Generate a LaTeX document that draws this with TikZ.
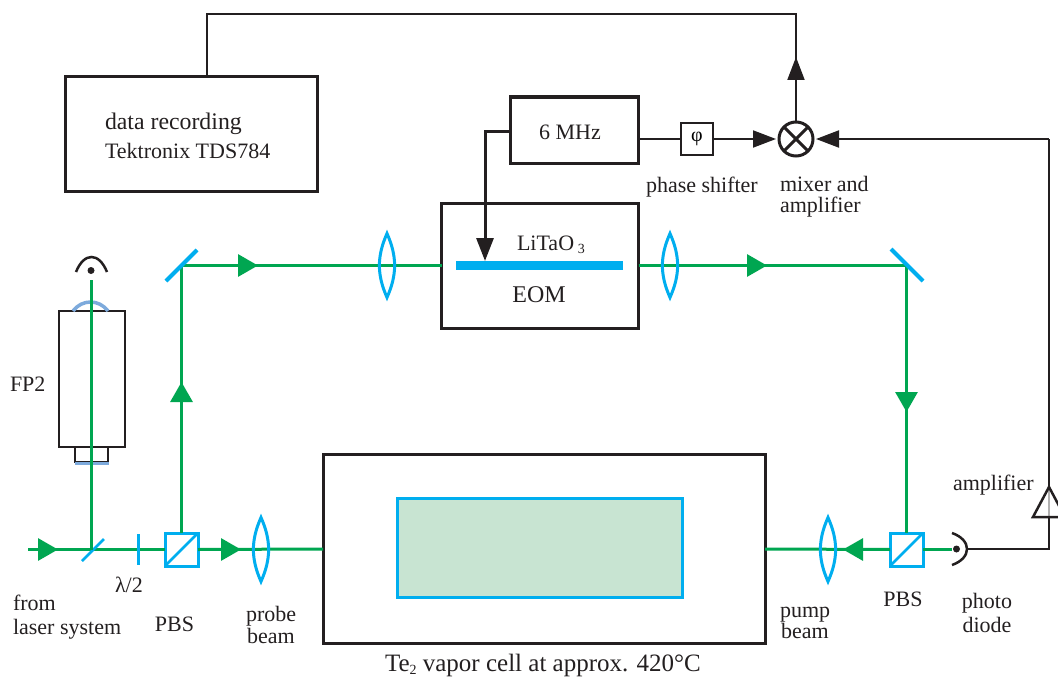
\documentclass[tikz,border=0pt]{standalone}
\usepackage{fontspec}
\setmainfont{Liberation Serif}
\usetikzlibrary{arrows.meta}
\definecolor{beam}{RGB}{0,166,81}
\definecolor{optic}{RGB}{0,174,239}
\definecolor{mirrorblue}{RGB}{125,170,220}
\definecolor{ink}{RGB}{35,31,32}
\definecolor{vapor}{RGB}{200,228,210}
\newcommand{\lowidx}[1]{\raisebox{-3pt}{\fontsize{14}{14}\selectfont #1}}
\tikzset{
  box/.style={draw=ink,line width=3pt,inner sep=0pt,outer sep=0pt},
  cube/.style={draw=optic,line width=3pt,inner sep=0pt,outer sep=0pt,minimum width=33pt,minimum height=33pt},
  lbl/.style={inner sep=0pt,outer sep=0pt,text=ink,font=\fontsize{22}{24}\selectfont},
  wire/.style={draw=ink,line width=2pt},
  laser/.style={draw=beam,line width=3pt},
  optics/.style={draw=optic,line width=3pt},
  greentip/.style={-{Triangle[length=20pt,width=22pt]}},
  blacktip/.style={-{Triangle[length=23pt,width=17pt]}}
}
\begin{document}
\begin{tikzpicture}[x=1pt,y=-1pt]
  \useasboundingbox (0,0) rectangle (1058,677);
  % vapor cell
  \node[box,minimum width=442pt,minimum height=189pt] (cell) at (544,549) {};
  \node[draw=optic,fill=vapor,line width=3pt,inner sep=0pt,minimum width=285pt,minimum height=99pt] (vaporfill) at (539.5,547.5) {};
  % beam path
  \coordinate (laserin) at (28,549.5);
  \coordinate (tipa) at (58,549.5);
  \coordinate (split) at (91,549.5);
  \coordinate (tipb) at (241,549.5);
  \coordinate (tipc) at (181.5,382);
  \coordinate (mirrora) at (181.5,265.5);
  \coordinate (tipd) at (258,265.5);
  \coordinate (tipe) at (767,265.5);
  \coordinate (mirrorb) at (906.5,265.5);
  \coordinate (tipf) at (906.5,412);
  \coordinate (tipg) at (843,549.5);
  \coordinate (fptop) at (91,280);
  \coordinate (diodein) at (952,549.5);
  \node[cube] (pbsa) at (181.5,549.5) {};
  \node[cube] (pbsb) at (906.5,549.5) {};
  \node[box,minimum width=197pt,minimum height=125pt] (eom) at (540,265.5) {};
  \draw[laser] (laserin) -- (pbsa.west);
  \draw[laser] (pbsa.east) -- (cell.west);
  \draw[laser] (pbsa.north) -- (mirrora) -- (eom.west);
  \draw[laser] (eom.east) -- (mirrorb) -- (pbsb.north);
  \draw[laser] (pbsb.west) -- (cell.east);
  \draw[laser,line width=2.5pt] (pbsb.east) -- (diodein);
  \draw[laser,greentip] (laserin) -- (tipa);
  \draw[laser,greentip] (pbsa.east) -- (tipb);
  \draw[laser,greentip] (pbsa.north) -- (tipc);
  \draw[laser,greentip] (mirrora) -- (tipd);
  \draw[laser,greentip] (eom.east) -- (tipe);
  \draw[laser,greentip] (mirrorb) -- (tipf);
  \draw[laser,greentip] (pbsb.west) -- (tipg);
  % optics
  \foreach \x/\y in {261/549.5,828/549.5,387/265.5,670/265.5}
    \draw[optics] (\x,\y-32) to[bend left=24] (\x,\y+32) to[bend left=24] cycle;
  \draw[optics,line width=4pt] (166,281) -- (197,250);
  \draw[optics,line width=4pt] (891,249) -- (923,281);
  \draw[optics,line width=2.5pt] (82,561) -- (104,539);
  \draw[optics] (138,534) -- (138,565);
  \draw[optics,line width=2.5pt,shorten >=1pt,shorten <=1pt] (pbsa.south west) -- (pbsa.north east);
  \draw[optics,line width=2.5pt,shorten >=1pt,shorten <=1pt] (pbsb.south west) -- (pbsb.north east);
  % FP2
  \node[box,line width=2pt,minimum width=66pt,minimum height=136pt] (fpbody) at (92,379) {};
  \node[box,line width=2pt,minimum width=33pt,minimum height=15pt] (fpfoot) at (91.5,454.5) {};
  \draw[mirrorblue,line width=3.5pt] (75,463.5) -- (109,463.5);
  \draw[mirrorblue,line width=3.5pt] (73,311) .. controls (82,299) and (99,299) .. (108,311);
  \draw[laser] (split) -- (fptop);
  % eye
  \draw[ink,line width=2.5pt] (76,272) .. controls (84,252) and (99,252) .. (107,272);
  \fill[ink] (91,270.5) circle (3.5);
  % EOM
  \fill[optic] (456,261) rectangle (623,270);
  \node[lbl,anchor=base west] (litao) at (517,250) {LiTaO\,\lowidx{3}};
  \node[lbl,anchor=base,font=\fontsize{24}{24}\selectfont] (eomlabel) at (539,302.5) {EOM};
  % electronics
  \node[box,minimum width=252pt,minimum height=114pt] (datarec) at (191,134) {};
  \node[box,minimum width=128pt,minimum height=66pt] (rf) at (574,130) {};
  \node[lbl,anchor=base] (rflabel) at (570,139.5) {6 MHz};
  \node[box,line width=1.5pt,minimum width=32pt,minimum height=32pt,font=\fontsize{20}{20}\selectfont] (phase) at (697,139) {φ};
  \node[circle,draw=ink,line width=3pt,inner sep=0pt,outer sep=0pt,minimum size=34pt] (mixer) at (796,139) {};
  \draw[ink,line width=3pt] (mixer.45) -- (mixer.225);
  \draw[ink,line width=3pt] (mixer.135) -- (mixer.315);
  \coordinate (rfturn) at (485,131);
  \coordinate (rftip) at (485,261);
  \coordinate (uptip) at (796,57);
  \coordinate (topright) at (796,14);
  \coordinate (topleft) at (207,14);
  \coordinate (rightturn) at (1049,139);
  \coordinate (ampapex) at (1049,487);
  \coordinate (ampbase) at (1049,517);
  \coordinate (ampout) at (1049,549);
  \coordinate (diodeout) at (967,549);
  \draw[wire,line width=3pt,blacktip] (rf.west |- rfturn) -- (rfturn) -- (rftip);
  \draw[wire] (rf.east |- phase) -- (phase.west);
  \draw[wire,blacktip,shorten >=3pt] (phase.east) -- (mixer.west);
  \draw[wire,blacktip,shorten >=3pt] (rightturn) -- (mixer.east);
  \draw[wire] (mixer.north) -- (topright) -- (topleft) -- (topleft |- datarec.north);
  \draw[wire,blacktip] (mixer.north) -- (uptip);
  \draw[wire] (rightturn) -- (ampapex);
  \draw[wire,line width=1.5pt,ink!35] (ampapex) -- (ampbase);
  \draw[wire,line width=2.5pt] (ampapex) -- (1033,517) -- (1065,517) -- cycle;
  \draw[wire] (ampbase) -- (ampout) -- (diodeout);
  % photo diode
  \draw[ink,line width=2.5pt] (952,533) .. controls (972,540) and (972,558) .. (952,565);
  \fill[ink] (956.5,549) circle (3.5);
  % labels
  \node[lbl,anchor=base west,font=\fontsize{23.8}{24}\selectfont] (lblrec) at (105,129) {data recording};
  \node[lbl,anchor=base west] (lbltek) at (105,158) {Tektronix TDS784};
  \node[lbl,anchor=base west] (lblshift) at (646,192) {phase shifter};
  \node[lbl,anchor=base west] (lblmixa) at (780,191) {mixer and};
  \node[lbl,anchor=base west] (lblmixb) at (780,212) {amplifier};
  \node[lbl,anchor=base west] (lblfp) at (10,391) {FP2};
  \node[lbl,anchor=base west] (lbllam) at (115,592) {λ/2};
  \node[lbl,anchor=base west] (lblfrom) at (13,610) {from};
  \node[lbl,anchor=base west] (lblsys) at (13,634) {laser system};
  \node[lbl,anchor=base] (lblpbsa) at (174.5,631) {PBS};
  \node[lbl,anchor=base west] (lblprobea) at (246,621) {probe};
  \node[lbl,anchor=base west] (lblprobeb) at (247,643.5) {beam};
  \node[lbl,anchor=base west] (lblpumpa) at (780,617) {pump};
  \node[lbl,anchor=base west] (lblpumpb) at (781,638) {beam};
  \node[lbl,anchor=base] (lblpbsb) at (903,606) {PBS};
  \node[lbl,anchor=base] (lblphoa) at (987,608) {photo};
  \node[lbl,anchor=base] (lblphob) at (987,632) {diode};
  \node[lbl,anchor=base west] (lblamp) at (953,490) {amplifier};
  \node[lbl,anchor=base west,font=\fontsize{25}{25}\selectfont] (lblcell) at (385,671.5) {Te\lowidx{2} vapor cell at approx. 420°C};
\end{tikzpicture}
\end{document}
